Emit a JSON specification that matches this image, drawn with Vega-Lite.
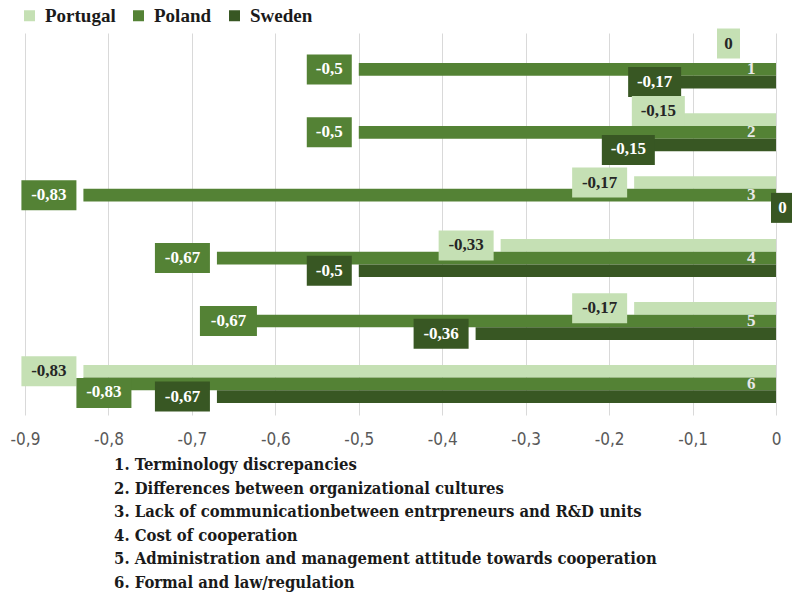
{
  "$schema": "https://vega.github.io/schema/vega-lite/v6.json",
  "width": 751,
  "height": 382,
  "autosize": {"type": "none"},
  "padding": {"left": 25, "top": 33, "right": 16, "bottom": 194},
  "background": "white",
  "config": {
    "locale": {"number": {"decimal": ",", "thousands": " ", "grouping": [3], "currency": ["", " €"], "minus": "-"}},
    "view": {"stroke": null},
    "font": "Liberation Serif"
  },
  "title": {
    "text": [
      "1. Terminology discrepancies",
      "2. Differences  between organizational  cultures",
      "3. Lack of communicationbetween  entrpreneurs  and R&D units",
      "4. Cost of cooperation",
      "5. Administration  and management  attitude towards cooperation",
      "6. Formal  and law/regulation"
    ],
    "orient": "bottom",
    "anchor": "start",
    "dx": 104,
    "offset": 10,
    "font": "DejaVu Serif Condensed, DejaVu Serif, serif",
    "fontSize": 16.5,
    "fontWeight": "bold",
    "color": "#1a1a1a",
    "lineHeight": 23.5
  },
  "data": {
    "values": [
      {"cat": "1", "country": "Portugal", "value": 0},
      {"cat": "1", "country": "Poland", "value": -0.5},
      {"cat": "1", "country": "Sweden", "value": -0.17},
      {"cat": "2", "country": "Portugal", "value": -0.15},
      {"cat": "2", "country": "Poland", "value": -0.5},
      {"cat": "2", "country": "Sweden", "value": -0.15},
      {"cat": "3", "country": "Portugal", "value": -0.17},
      {"cat": "3", "country": "Poland", "value": -0.83},
      {"cat": "3", "country": "Sweden", "value": 0},
      {"cat": "4", "country": "Portugal", "value": -0.33},
      {"cat": "4", "country": "Poland", "value": -0.67},
      {"cat": "4", "country": "Sweden", "value": -0.5},
      {"cat": "5", "country": "Portugal", "value": -0.17},
      {"cat": "5", "country": "Poland", "value": -0.67},
      {"cat": "5", "country": "Sweden", "value": -0.36},
      {"cat": "6", "country": "Portugal", "value": -0.83},
      {"cat": "6", "country": "Poland", "value": -0.83},
      {"cat": "6", "country": "Sweden", "value": -0.67}
    ]
  },
  "encoding": {
    "y": {
      "field": "cat",
      "type": "nominal",
      "sort": ["1", "2", "3", "4", "5", "6"],
      "scale": {"paddingInner": 0.396, "paddingOuter": 0.2345, "align": 0.59},
      "axis": {
        "orient": "right",
        "title": null,
        "domain": false,
        "ticks": false,
        "grid": false,
        "labelAlign": "right",
        "labelBaseline": "middle",
        "labelPadding": -21,
        "labelColor": "#e8e8e8",
        "labelFont": "Liberation Serif",
        "labelFontSize": 17,
        "labelFontWeight": "bold",
        "zindex": 2
      }
    },
    "yOffset": {
      "field": "country",
      "type": "nominal",
      "sort": ["Portugal", "Poland", "Sweden"],
      "scale": {"paddingInner": 0, "paddingOuter": 0}
    },
    "x": {
      "field": "value",
      "type": "quantitative",
      "scale": {"domain": [-0.9, 0], "nice": false, "zero": true},
      "axis": {
        "title": null,
        "values": [-0.9, -0.8, -0.7, -0.6, -0.5, -0.4, -0.3, -0.2, -0.1, 0],
        "format": ".1~f",
        "domain": false,
        "ticks": false,
        "tickSize": 0,
        "grid": true,
        "gridColor": "#d9d9d9",
        "gridWidth": 1,
        "labelPadding": 16,
        "labelColor": "#595959",
        "labelFont": "Liberation Sans Narrow, DejaVu Sans Condensed, sans-serif",
        "labelFontSize": 17,
        "labelFlush": false
      }
    }
  },
  "layer": [
    {
      "mark": {"type": "bar"},
      "encoding": {
        "color": {
          "field": "country",
          "type": "nominal",
          "sort": ["Portugal", "Poland", "Sweden"],
          "scale": {"domain": ["Portugal", "Poland", "Sweden"], "range": ["#c5e0b4", "#548235", "#385723"]},
          "legend": {
            "title": null,
            "orient": "none",
            "legendX": -5,
            "legendY": -27,
            "direction": "horizontal",
            "symbolType": "square",
            "symbolSize": 121,
            "symbolStrokeWidth": 0,
            "symbolOpacity": 1,
            "labelFont": "Liberation Serif",
            "labelFontSize": 19,
            "labelFontWeight": "bold",
            "labelColor": "#1a1a1a",
            "labelOffset": 6,
            "columnPadding": 13,
            "padding": 0
          }
        }
      }
    },
    {
      "transform": [{"filter": "(datum.cat=='3' && datum.country!='Sweden') || (datum.cat=='4' && datum.country!='Sweden') || (datum.cat=='5' && datum.country!='Poland') || (datum.cat=='6' && datum.country!='Poland')"}],
      "layer": [
        {"mark": {"type": "bar", "height": 30, "xOffset": -62, "x2Offset": -7}, "encoding": {"x2": {"field": "value"}, "color": {"field": "country", "type": "nominal", "legend": null}}},
        {"mark": {"type": "text", "font": "Liberation Serif", "fontSize": 17, "fontWeight": "bold", "dx": -34.5, "align": "center", "baseline": "middle"},
         "encoding": {"text": {"field": "value", "type": "quantitative", "format": ".2~f"}, "color": {"condition": {"test": "datum.country==='Portugal'", "value": "#262626"}, "value": "#ffffff"}}}
      ]
    },
    {
      "transform": [{"filter": "datum.value==-0.5"}],
      "layer": [
        {"mark": {"type": "bar", "height": 30, "xOffset": -52, "x2Offset": -7}, "encoding": {"x2": {"field": "value"}, "color": {"field": "country", "type": "nominal", "legend": null}}},
        {"mark": {"type": "text", "font": "Liberation Serif", "fontSize": 17, "fontWeight": "bold", "dx": -29.5, "align": "center", "baseline": "middle"},
         "encoding": {"text": {"field": "value", "type": "quantitative", "format": ".2~f"}, "color": {"value": "#ffffff"}}}
      ]
    },
    {
      "transform": [{"filter": "datum.cat=='1' && datum.country=='Sweden'"}],
      "layer": [
        {"mark": {"type": "bar", "height": 30, "xOffset": -6, "x2Offset": 47}, "encoding": {"x2": {"field": "value"}, "color": {"field": "country", "type": "nominal", "legend": null}}},
        {"mark": {"type": "text", "font": "Liberation Serif", "fontSize": 17, "fontWeight": "bold", "dx": 20.5, "align": "center", "baseline": "middle"},
         "encoding": {"text": {"field": "value", "type": "quantitative", "format": ".2~f"}, "color": {"value": "#ffffff"}}}
      ]
    },
    {
      "transform": [{"filter": "datum.cat=='5' && datum.country=='Poland'"}],
      "layer": [
        {"mark": {"type": "bar", "height": 30, "xOffset": -17, "x2Offset": 40}, "encoding": {"x2": {"field": "value"}, "color": {"field": "country", "type": "nominal", "legend": null}}},
        {"mark": {"type": "text", "font": "Liberation Serif", "fontSize": 17, "fontWeight": "bold", "dx": 11.5, "align": "center", "baseline": "middle"},
         "encoding": {"text": {"field": "value", "type": "quantitative", "format": ".2~f"}, "color": {"value": "#ffffff"}}}
      ]
    },
    {
      "transform": [{"filter": "datum.cat=='6' && datum.country=='Poland'"}],
      "layer": [
        {"mark": {"type": "bar", "height": 30, "xOffset": -7, "x2Offset": 48}, "encoding": {"x2": {"field": "value"}, "yOffset": {"value": 28.1}, "color": {"field": "country", "type": "nominal", "legend": null}}},
        {"mark": {"type": "text", "font": "Liberation Serif", "fontSize": 17, "fontWeight": "bold", "dx": 20.5, "dy": 8, "align": "center", "baseline": "middle"},
         "encoding": {"text": {"field": "value", "type": "quantitative", "format": ".2~f"}, "color": {"value": "#ffffff"}}}
      ]
    },
    {
      "transform": [{"filter": "datum.cat=='2' && datum.country=='Portugal'"}],
      "layer": [
        {"mark": {"type": "bar", "height": 30, "xOffset": -19, "x2Offset": 34}, "encoding": {"x2": {"field": "value"}, "yOffset": {"value": -2.3}, "color": {"field": "country", "type": "nominal", "legend": null}}},
        {"mark": {"type": "text", "font": "Liberation Serif", "fontSize": 17, "fontWeight": "bold", "dx": 7.5, "dy": -9, "align": "center", "baseline": "middle"},
         "encoding": {"text": {"field": "value", "type": "quantitative", "format": ".2~f"}, "color": {"value": "#262626"}}}
      ]
    },
    {
      "transform": [{"filter": "datum.cat=='2' && datum.country=='Sweden'"}],
      "layer": [
        {"mark": {"type": "bar", "height": 30, "xOffset": -49, "x2Offset": 4}, "encoding": {"x2": {"field": "value"}, "yOffset": {"value": 36.7}, "color": {"field": "country", "type": "nominal", "legend": null}}},
        {"mark": {"type": "text", "font": "Liberation Serif", "fontSize": 17, "fontWeight": "bold", "dx": -22.5, "dy": 4, "align": "center", "baseline": "middle"},
         "encoding": {"text": {"field": "value", "type": "quantitative", "format": ".2~f"}, "color": {"value": "#ffffff"}}}
      ]
    },
    {
      "transform": [{"filter": "datum.cat=='1' && datum.country=='Portugal'"}],
      "layer": [
        {"mark": {"type": "bar", "height": 30, "xOffset": -59, "x2Offset": -36}, "encoding": {"x2": {"field": "value"}, "yOffset": {"value": -6.9}, "color": {"field": "country", "type": "nominal", "legend": null}}},
        {"mark": {"type": "text", "font": "Liberation Serif", "fontSize": 17, "fontWeight": "bold", "dx": -47.5, "dy": -13, "align": "center", "baseline": "middle"},
         "encoding": {"text": {"field": "value", "type": "quantitative", "format": ".2~f"}, "color": {"value": "#262626"}}}
      ]
    },
    {
      "transform": [{"filter": "datum.cat=='3' && datum.country=='Sweden'"}],
      "layer": [
        {"mark": {"type": "bar", "height": 30, "xOffset": -5, "x2Offset": 18}, "encoding": {"x2": {"field": "value"}, "color": {"field": "country", "type": "nominal", "legend": null}}},
        {"mark": {"type": "text", "font": "Liberation Serif", "fontSize": 17, "fontWeight": "bold", "dx": 6.5, "align": "center", "baseline": "middle"},
         "encoding": {"text": {"field": "value", "type": "quantitative", "format": ".2~f"}, "color": {"value": "#ffffff"}}}
      ]
    }
  ]
}
